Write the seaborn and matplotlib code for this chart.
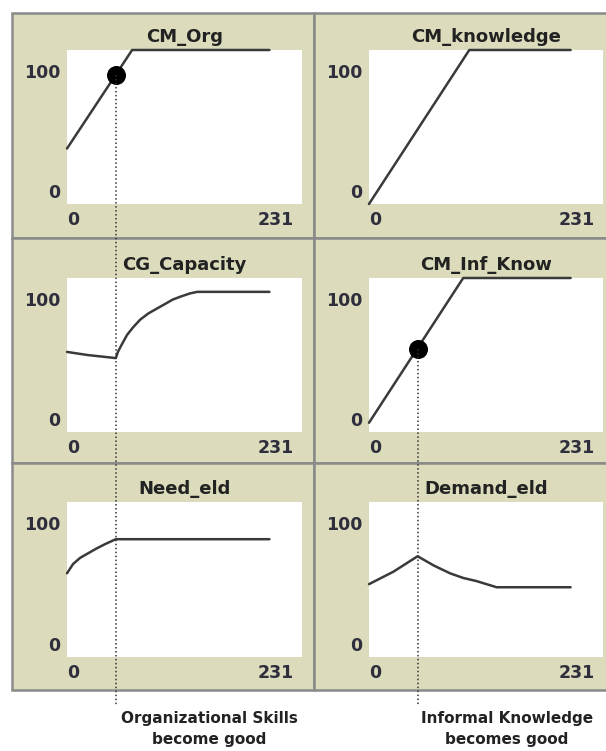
import matplotlib
matplotlib.use('Agg')
import matplotlib.pyplot as plt
import seaborn as sns
import pandas as pd
from matplotlib.patches import Rectangle
from matplotlib.lines import Line2D
from matplotlib import transforms

# panel titles (row by row)
titles = ['CM_Org', 'CM_knowledge', 'CG_Capacity', 'CM_Inf_Know', 'Need_eld', 'Demand_eld']

# series (time step, value)
org_t = [0, 64, 199]
org_v = [36, 100, 100]
know_t = [0, 99, 199]
know_v = [0, 100, 100]
cap_t = [0, 20, 48, 50, 54, 59, 65, 72, 80, 88, 96, 104, 112, 121, 128, 199]
cap_v = [52, 50, 48, 52, 57, 63, 68, 73, 77, 80, 83, 86, 88, 90, 91, 91]
inf_t = [0, 93, 199]
inf_v = [6, 100, 100]
need_t = [0, 6, 13, 21, 29, 38, 48, 199]
need_v = [54, 60, 64, 67, 70, 73, 76, 76]
dem_t = [0, 24, 48, 64, 80, 93, 106, 126, 199]
dem_v = [47, 55, 65, 59, 54, 51, 49, 45, 45]

# marked points
dot_names = ['CM_Org', 'CM_Inf_Know']
dot_t = [48, 48]
dot_v = [84, 54]

x_ticks = [0, 231]
x_labels = ['0', '231']
y_ticks = [0, 100]
y_labels = ['0', '100']

notes = ['Organizational Skills\nbecome good', 'Informal Knowledge\nbecomes good']

series = {
    'CM_Org': (org_t, org_v),
    'CM_knowledge': (know_t, know_v),
    'CG_Capacity': (cap_t, cap_v),
    'CM_Inf_Know': (inf_t, inf_v),
    'Need_eld': (need_t, need_v),
    'Demand_eld': (dem_t, dem_v),
}
frames = []
for name, (t, v) in series.items():
    frames.append(pd.DataFrame({'t': t, 'value': v, 'plot': name}))
df = pd.concat(frames, ignore_index=True)
dots = pd.DataFrame({'plot': dot_names, 't': dot_t, 'value': dot_v})

sns.set_theme(style='white')
plt.rcParams['font.family'] = ['DejaVu Sans']

W, H = 606, 751
fig = plt.figure(figsize=(W / 100, H / 100), dpi=100)
fig.patch.set_facecolor('white')

beige = '#dcdbbb'
edge = '#8a8a8a'
tick_col = '#2e2e3c'

def fbox(x0, y0, x1, y1):
    return [x0 / W, 1 - y1 / H, (x1 - x0) / W, (y1 - y0) / H]

row_panel = [(13, 238), (238, 463), (463, 690)]
col_panel = [(12, 314), (314, 610)]
row_plot = [(50, 204), (278, 432), (502, 657)]
col_plot = [(67, 302), (369, 603)]

axes = {}
for i, name in enumerate(titles):
    r, c = divmod(i, 2)
    px0, px1 = col_panel[c]
    py0, py1 = row_panel[r]
    b = fbox(px0, py0, px1, py1)
    fig.add_artist(Rectangle((b[0], b[1]), b[2], b[3], transform=fig.transFigure,
                             facecolor=beige, edgecolor=edge, lw=1.8, zorder=-5))

    ax = fig.add_axes(fbox(col_plot[c][0], row_plot[r][0], col_plot[c][1], row_plot[r][1]))
    ax.set_facecolor('white')
    sub = df[df['plot'] == name]
    sns.lineplot(data=sub, x='t', y='value', ax=ax, color='#3a3a3a', lw=1.8,
                 sort=False, clip_on=False)
    dsub = dots[dots['plot'] == name]
    if len(dsub):
        sns.scatterplot(data=dsub, x='t', y='value', ax=ax, color='black', s=160,
                        edgecolor='black', zorder=5)
    ax.set_xlim(0, 231)
    ax.set_ylim(0, 100)
    ax.set_xlabel('')
    ax.set_ylabel('')
    for s in ax.spines.values():
        s.set_visible(False)
    ax.set_xticks(x_ticks)
    ax.set_xticklabels(x_labels)
    ax.set_yticks(y_ticks)
    ax.set_yticklabels(y_labels)
    ax.tick_params(length=0, labelsize=12.5, labelcolor=tick_col, pad=5)
    for lab in ax.get_xticklabels() + ax.get_yticklabels():
        lab.set_fontweight('bold')
    xl = ax.get_xticklabels()
    xl[0].set_ha('left')
    xl[1].set_ha('right')
    xl[1].set_transform(xl[1].get_transform() +
                        transforms.ScaledTranslation(-0.08, 0, fig.dpi_scale_trans))
    yl = ax.get_yticklabels()
    yl[0].set_transform(yl[0].get_transform() +
                        transforms.ScaledTranslation(0, 0.13, fig.dpi_scale_trans))
    yl[1].set_transform(yl[1].get_transform() +
                        transforms.ScaledTranslation(0, -0.21, fig.dpi_scale_trans))
    ax.set_title(name, fontsize=13, fontweight='bold', color='#222222', pad=6)
    axes[name] = ax

# dotted guide lines from the marked points down to the notes
for name, t, v in zip(dot_names, dot_t, dot_v):
    ax = axes[name]
    disp = ax.transData.transform((t, v))
    fx, fy = fig.transFigure.inverted().transform(disp)
    fig.add_artist(Line2D([fx, fx], [fy, 1 - 706 / H], transform=fig.transFigure,
                          color='#333333', lw=1.1, linestyle=(0, (1, 1.6)), zorder=10))

fig.text(209 / W, 1 - 729 / H, notes[0], ha='center', va='center', fontsize=11,
         fontweight='bold', color='#222222', linespacing=1.45)
fig.text(507 / W, 1 - 729 / H, notes[1], ha='center', va='center', fontsize=11,
         fontweight='bold', color='#222222', linespacing=1.45)

fig.savefig('out.png', dpi=100)
